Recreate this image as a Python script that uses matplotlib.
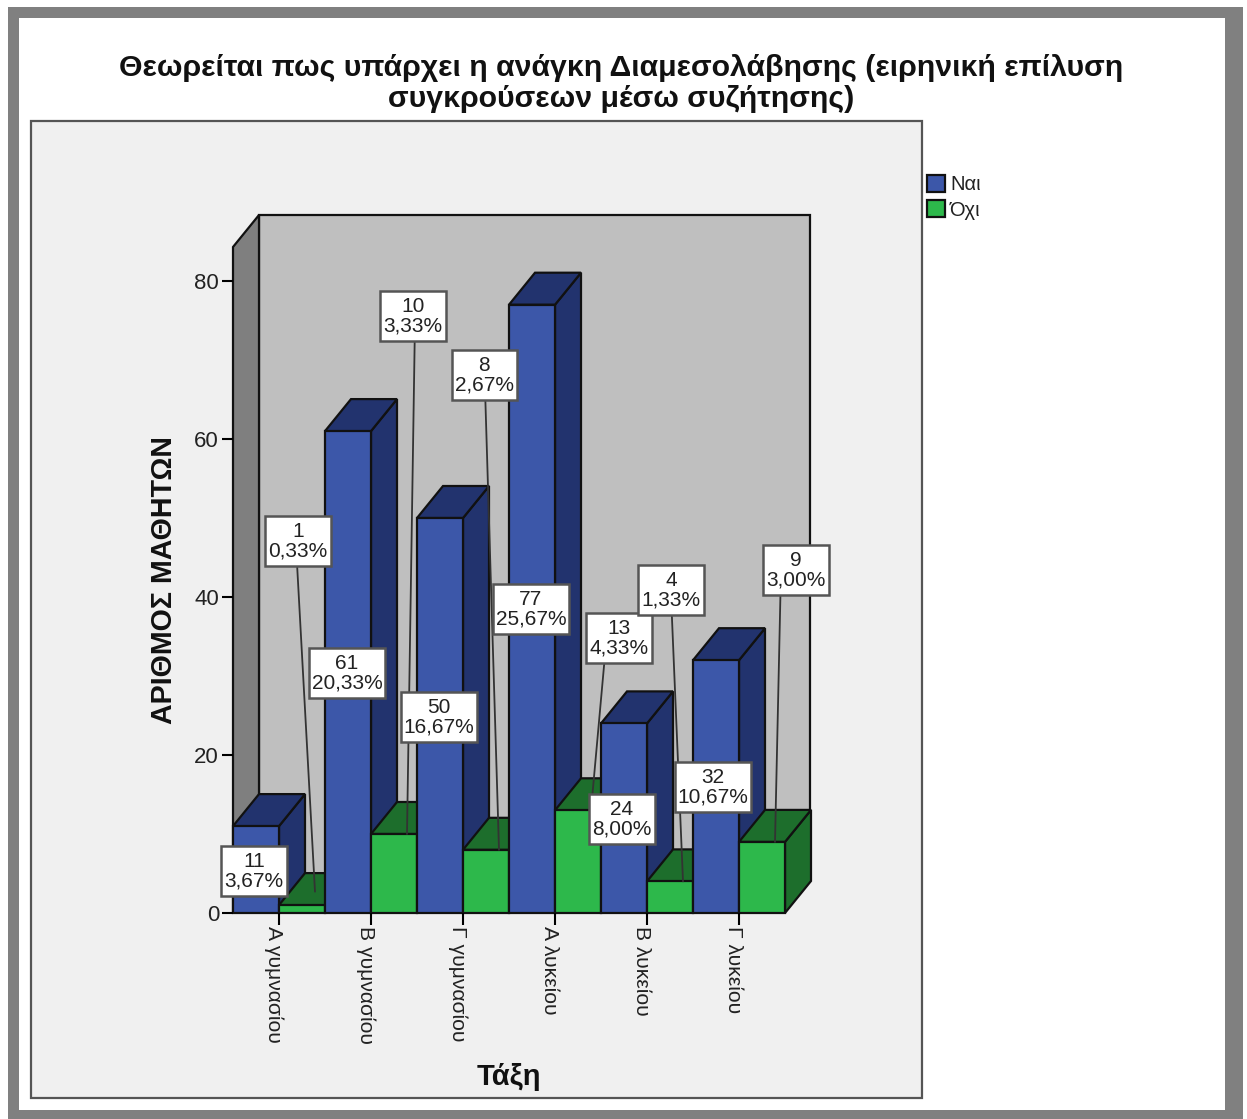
import matplotlib
matplotlib.use("Agg")
import matplotlib.pyplot as plt
from matplotlib.patches import Patch, Rectangle
from matplotlib.path import Path
from matplotlib.transforms import ScaledTranslation

plt.rcParams["font.family"] = ["Liberation Sans", "DejaVu Sans"]

classes = ["Α γυμνασίου", "Β γυμνασίου", "Γ γυμνασίου", "Α λυκείου", "Β λυκείου", "Γ λυκείου"]
yes_counts = [11, 61, 50, 77, 24, 32]
no_counts = [1, 10, 8, 13, 4, 9]
yes_pct = ["3,67%", "20,33%", "16,67%", "25,67%", "8,00%", "10,67%"]
no_pct = ["0,33%", "3,33%", "2,67%", "4,33%", "1,33%", "3,00%"]
y_ticks = [0, 20, 40, 60, 80]

# label box centres in figure pixels
yes_label_pos = [(254, 871), (347, 673), (439, 717), (531, 609), (622, 819), (713, 787)]
no_label_pos = [(298, 541), (413, 316), (484, 375), (619, 638), (671, 590), (796, 570)]
no_leader_x = [0.48, 0.53, 0.52, 0.26, 0.51, 0.24]

BLUE, BLUE_DARK = "#3c57a9", "#22336e"
GREEN, GREEN_DARK = "#2db84b", "#1d6e2c"
WALL, SIDE_WALL, PANEL = "#bfbfbf", "#7f7f7f", "#f0f0f0"
W, H = 1247, 1119
LW = 1.6


def ax_rect(left, top, right, bottom):
    return [left / W, 1 - bottom / H, (right - left) / W, (bottom - top) / H]


def tall_box(x0, y0, width, height, mutation_size):
    # labels have more padding above and below than at the sides
    px, py = 3, 6
    x1, y1 = x0 + width + px, y0 + height + py
    x0, y0 = x0 - px, y0 - py
    return Path([(x0, y0), (x1, y0), (x1, y1), (x0, y1), (x0, y0)], closed=True)


fig = plt.figure(figsize=(W / 100, H / 100), dpi=100, facecolor="white")

# page frame and grey panel
bg = fig.add_axes([0, 0, 1, 1])
bg.set_xlim(0, W)
bg.set_ylim(H, 0)
bg.axis("off")
bg.add_patch(Rectangle((1225, 8), 18, 1111, fc="#808080", ec="none"))
bg.add_patch(Rectangle((8, 1110), 1235, 9, fc="#808080", ec="none"))
bg.add_patch(Rectangle((8, 7), 1235, 11, fc="#808080", ec="none"))
bg.add_patch(Rectangle((8, 7), 11, 1112, fc="#808080", ec="none"))
bg.add_patch(Rectangle((31, 121), 891, 977, fc=PANEL, ec="#555555", lw=1.6))

# one slot is one bar, 46 px wide; one count is 7.9 px high
ax = fig.add_axes(ax_rect(233, 215, 810, 913))
ax.patch.set_alpha(0)
xmax = 577 / 46
ymax = 698 / 7.9
dx = 26 / 46
dy = 32 / 7.9

ax.fill([dx, xmax, xmax, dx], [dy, dy, ymax, ymax], fc=WALL, ec="#111111", lw=LW, clip_on=False)
ax.fill([0, dx, dx, 0], [0, dy, ymax, ymax - dy], fc=SIDE_WALL, ec="#111111", lw=LW, clip_on=False)


def draw_bar(x, v, color, dark):
    ax.fill([x + 1, x + 1 + dx, x + 1 + dx, x + 1], [0, dy, v + dy, v], fc=dark, ec="#111111", lw=LW, clip_on=False)
    ax.fill([x, x + dx, x + 1 + dx, x + 1], [v, v + dy, v + dy, v], fc=dark, ec="#111111", lw=LW, clip_on=False)
    ax.bar(x, v, width=1, align="edge", color=color, edgecolor="#111111", linewidth=LW, clip_on=False)


for i in range(len(classes)):
    draw_bar(2 * i, yes_counts[i], BLUE, BLUE_DARK)
    draw_bar(2 * i + 1, no_counts[i], GREEN, GREEN_DARK)

ax.set_xlim(0, xmax)
ax.set_ylim(0, ymax)
for s in ax.spines.values():
    s.set_visible(False)
ax.set_yticks(y_ticks)
ax.set_xticks([2 * i + 1 for i in range(len(classes))])
ax.set_xticklabels(classes, rotation=270, ha="center", va="top", fontsize=15.2, color="#222222")
ax.tick_params(axis="y", length=8, width=1.5, labelsize=16, labelcolor="#222222", pad=2)
ax.tick_params(axis="x", length=8.5, width=1.5, pad=1)
shift = ScaledTranslation(-5 / 100, 0, fig.dpi_scale_trans)
for lab in ax.get_xticklabels():
    lab.set_transform(lab.get_transform() + shift)

box = dict(boxstyle=tall_box, fc="white", ec="#555555", lw=1.8)

for i in range(len(classes)):
    x_no = 2 * i + 1.5 + dx / 2
    ax.annotate(
        f"{no_counts[i]}\n{no_pct[i]}",
        xy=(x_no, max(no_counts[i], 2.7)), xycoords="data",
        xytext=no_label_pos[i], textcoords=bg.transData,
        ha="center", va="center", fontsize=15, color="#222222", linespacing=1.02, bbox=box,
        arrowprops=dict(arrowstyle="-", color="#333333", lw=1.3, shrinkA=0, shrinkB=0,
                        relpos=(no_leader_x[i], 0)),
        annotation_clip=False,
    )
for i in range(len(classes)):
    ax.annotate(
        f"{yes_counts[i]}\n{yes_pct[i]}",
        xy=(2 * i + 0.5, yes_counts[i]), xycoords="data",
        xytext=yes_label_pos[i], textcoords=bg.transData,
        ha="center", va="center", fontsize=15, color="#222222", linespacing=1.02, bbox=box,
        annotation_clip=False,
    )

# overlay for titles and legend, in figure pixels
fig.text(621 / W, 1 - 83.5 / H,
         "Θεωρείται πως υπάρχει η ανάγκη Διαμεσολάβησης (ειρηνική επίλυση\nσυγκρούσεων μέσω συζήτησης)",
         ha="center", va="center", fontsize=21.75, fontweight="bold", color="#111111", linespacing=1.13)
fig.text(164 / W, 1 - 580 / H, "ΑΡΙΘΜΟΣ ΜΑΘΗΤΩΝ", rotation=90, ha="center", va="center",
         fontsize=20.6, fontweight="bold", color="#111111")
fig.text(509 / W, 1 - 1077 / H, "Τάξη", ha="center", va="center",
         fontsize=21, fontweight="bold", color="#111111")

handles = [Patch(fc=BLUE, ec="#111111", lw=LW, label="Ναι"), Patch(fc=GREEN, ec="#111111", lw=LW, label="Όχι")]
fig.legend(handles=handles, loc="upper left", bbox_to_anchor=(927 / W, 1 - 175 / H), borderaxespad=0, borderpad=0,
           frameon=False, fontsize=14.5, handlelength=0.9, handleheight=0.9, handletextpad=0.25, labelspacing=0.3,
           labelcolor="#222222")

fig.savefig("out.png", dpi=100, facecolor="white")
